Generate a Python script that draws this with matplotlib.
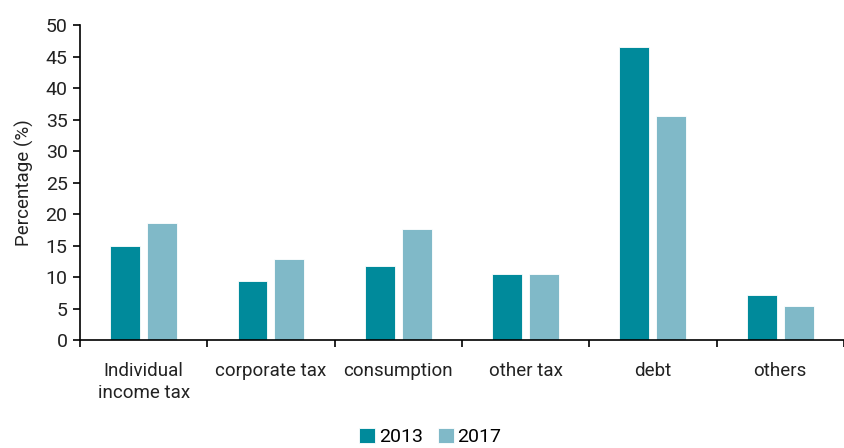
import matplotlib.pyplot as plt
import numpy as np

plt.rcParams['font.family'] = ['Liberation Sans Narrow', 'Roboto', 'DejaVu Sans']

categories = ['Individual\nincome tax', 'corporate tax', 'consumption',
              'other tax', 'debt', 'others']
values_2013 = [15.0, 9.3, 11.7, 10.5, 46.5, 7.2]
values_2017 = [18.6, 12.9, 17.6, 10.5, 35.5, 5.4]
years = ['2013', '2017']
colors = ['#008A9B', '#80B9C8']

fig = plt.figure(figsize=(8.44, 4.48), dpi=100)
ax = fig.add_axes([0.0948, 0.241, 0.905, 0.703])

x = np.arange(len(categories))
w = 0.235
ax.bar(x - 0.145, values_2013, w, color=colors[0], label=years[0],
       edgecolor='white', linewidth=0.6)
ax.bar(x + 0.145, values_2017, w, color=colors[1], label=years[1],
       edgecolor='white', linewidth=0.6)

ax.set_xlim(-0.5, len(categories) - 0.5)
ax.set_ylim(0, 50)
ax.set_yticks(range(0, 51, 5))
ax.set_xticks(x)
ax.set_xticklabels(categories, fontsize=13.5, color='#222222', linespacing=1.3)
ax.tick_params(axis='x', which='major', length=0, pad=16)
ax.set_xticks(np.arange(-0.5, len(categories), 1), minor=True)
ax.tick_params(axis='x', which='minor', length=5, width=1.2, direction='out')
ax.tick_params(axis='y', labelsize=14, length=5, width=1.2, direction='out',
               labelcolor='#222222', pad=4)
ax.set_ylabel('Percentage (%)', fontsize=13.5, color='#222222', labelpad=8)

for s in ['top', 'right']:
    ax.spines[s].set_visible(False)
for s in ['left', 'bottom']:
    ax.spines[s].set_linewidth(1.2)

fig.legend(loc='lower center', bbox_to_anchor=(0.51, -0.035), ncol=2,
           frameon=False, fontsize=14, handlelength=0.8, handleheight=0.8,
           handletextpad=0.2, columnspacing=0.8)

fig.savefig('out.png', dpi=100)
